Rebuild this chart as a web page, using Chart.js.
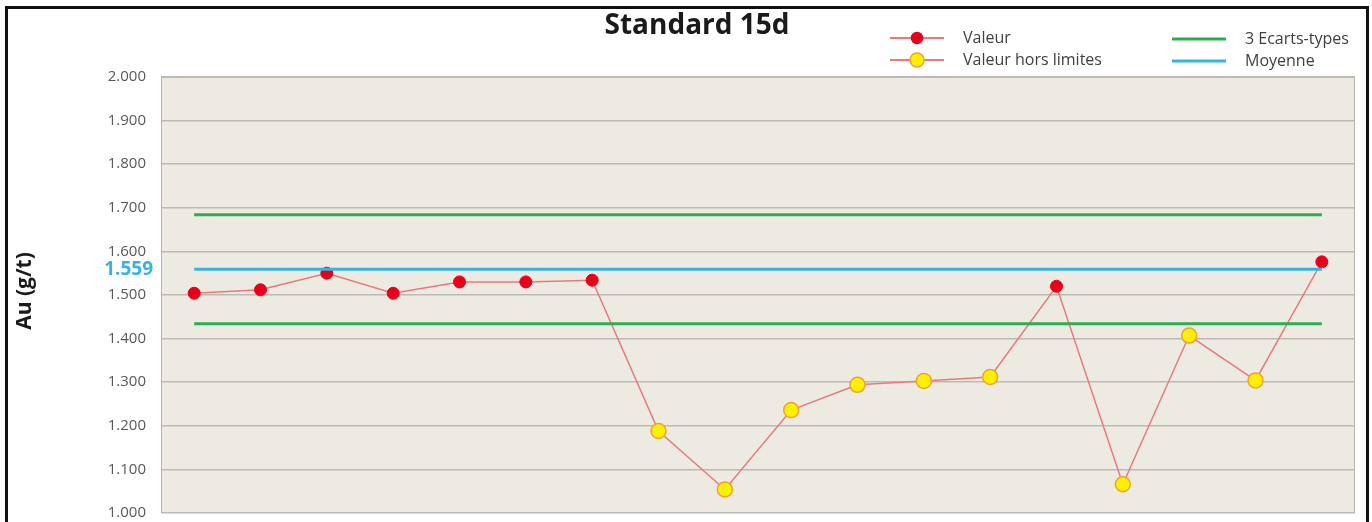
<!DOCTYPE html>
<html lang="fr">
<head>
<meta charset="utf-8">
<title>Standard 15d</title>
<script src="https://cdn.jsdelivr.net/npm/chart.js@4.4.1/dist/chart.umd.min.js"></script>
<style>
  html, body { margin: 0; padding: 0; background: #fff; }
  #wrap { position: relative; width: 1372px; height: 522px; overflow: hidden; }
  #cadre { position: absolute; left: 5px; top: 6px; width: 1358px; height: 600px; border: 3px solid #111; pointer-events: none; }
  canvas { position: absolute; left: 0; top: 0; }
</style>
</head>
<body>
<div id="wrap">
  <!-- le graphique d'origine est coupé en bas : on dessine plus haut et on recadre -->
  <canvas id="standardChart" width="1372" height="537"></canvas>
  <div id="cadre"></div>
</div>
<script>
// Données du standard 15d
const echantillons = ['1', '2', '3', '4', '5', '6', '7', '8', '9', '10', '11', '12', '13', '14', '15', '16', '17', '18'];
const valeurs = [1.504, 1.512, 1.550, 1.504, 1.530, 1.530, 1.534, 1.188, 1.054, 1.236, 1.294, 1.303, 1.312, 1.520, 1.066, 1.407, 1.304, 1.576];
const moyenne = 1.559;
const limiteHaute = 1.684;
const limiteBasse = 1.434;
const ticksY = [1.0, 1.1, 1.2, 1.3, 1.4, 1.5, 1.6, 1.7, 1.8, 1.9, 2.0];

// Couleurs
const ROUGE = '#e8001a';
const JAUNE = '#fff000';
const ORANGE = '#f0a22e';
const LIGNE = '#e77b7b';
const VERT = '#2eac52';
const BLEU = '#35b4e4';

const horsLimites = (v) => v < limiteBasse || v > limiteHaute;
const valeursHors = valeurs.map(v => horsLimites(v) ? v : null);
const constante = (c) => valeurs.map(() => c);

// Décor : fond, titre, légende, libellés
const decor = {
    id: 'decor',
    beforeDraw(chart) {
        const { ctx, chartArea: a } = chart;
        ctx.save();
        ctx.fillStyle = '#edeae2';
        ctx.fillRect(a.left, a.top, a.right - a.left, a.bottom - a.top);
        ctx.strokeStyle = '#b8b5ae';
        ctx.lineWidth = 1;
        ctx.strokeRect(a.left + 0.5, a.top + 0.5, a.right - a.left - 1, a.bottom - a.top - 1);
        ctx.restore();
    },
    afterDraw(chart) {
        const { ctx, chartArea: a } = chart;
        const y = chart.scales.y;
        ctx.save();

        // titre
        ctx.fillStyle = '#1a1a1a';
        ctx.font = 'bold 28px "Open Sans"';
        ctx.textAlign = 'center';
        ctx.textBaseline = 'middle';
        ctx.fillText('Standard 15d', 697, 26);

        // titre de l'axe Y
        ctx.save();
        ctx.translate(25, (a.top + a.bottom) / 2 - 4);
        ctx.rotate(-Math.PI / 2);
        ctx.font = 'bold 21px "Open Sans"';
        ctx.fillText('Au (g/t)', 0, 0);
        ctx.restore();

        // valeur de la moyenne
        ctx.fillStyle = BLEU;
        ctx.font = 'bold 19px "Open Sans"';
        ctx.textAlign = 'right';
        ctx.fillText(moyenne.toFixed(3), 153, y.getPixelForValue(moyenne));

        // légende
        const items = [
            { label: 'Valeur', x: 890, y: 38, ligne: LIGNE, point: ROUGE, bord: ROUGE, r: 5.5 },
            { label: 'Valeur hors limites', x: 890, y: 60, ligne: LIGNE, point: JAUNE, bord: ORANGE, r: 7 },
            { label: '3 Ecarts-types', x: 1172, y: 39, ligne: VERT, lw: 3 },
            { label: 'Moyenne', x: 1172, y: 61, ligne: BLEU, lw: 3 }
        ];
        ctx.font = '16px "Open Sans"';
        ctx.textAlign = 'left';
        items.forEach(it => {
            ctx.strokeStyle = it.ligne;
            ctx.lineWidth = it.lw || 2;
            ctx.beginPath();
            ctx.moveTo(it.x, it.y);
            ctx.lineTo(it.x + 54, it.y);
            ctx.stroke();
            if (it.point) {
                ctx.fillStyle = it.point;
                ctx.strokeStyle = it.bord;
                ctx.lineWidth = 1.5;
                ctx.beginPath();
                ctx.arc(it.x + 27, it.y, it.r, 0, Math.PI * 2);
                ctx.fill();
                ctx.stroke();
            }
            ctx.fillStyle = '#404040';
            ctx.fillText(it.label, it.x + 73, it.y);
        });
        ctx.restore();
    }
};

const ctx = document.getElementById('standardChart').getContext('2d');
const standardChart = new Chart(ctx, {
    type: 'line',
    data: {
        labels: echantillons,
        datasets: [
            {
                label: 'Moyenne',
                data: constante(moyenne),
                borderColor: BLEU,
                borderWidth: 3,
                pointRadius: 0,
                order: 0
            },
            {
                label: '3 Ecarts-types',
                data: constante(limiteHaute),
                borderColor: VERT,
                borderWidth: 3,
                pointRadius: 0,
                order: 1
            },
            {
                label: '3 Ecarts-types (bas)',
                data: constante(limiteBasse),
                borderColor: VERT,
                borderWidth: 3,
                pointRadius: 0,
                order: 1
            },
            {
                label: 'Valeur hors limites',
                data: valeursHors,
                showLine: false,
                pointRadius: 7.5,
                pointBackgroundColor: JAUNE,
                pointBorderColor: ORANGE,
                pointBorderWidth: 1.5,
                order: 2
            },
            {
                label: 'Valeur',
                data: valeurs,
                borderColor: LIGNE,
                borderWidth: 1.5,
                tension: 0,
                pointRadius: valeurs.map(v => horsLimites(v) ? 0 : 6),
                pointBackgroundColor: ROUGE,
                pointBorderColor: ROUGE,
                pointBorderWidth: 1,
                order: 3
            }
        ]
    },
    options: {
        responsive: false,
        animation: false,
        layout: { padding: { left: 0, top: 77, right: 17, bottom: 0 } },
        plugins: {
            legend: { display: false },
            tooltip: { enabled: false }
        },
        scales: {
            x: {
                display: false,
                offset: true
            },
            y: {
                min: 1,
                max: 2,
                afterBuildTicks: (scale) => { scale.ticks = ticksY.map(v => ({ value: v })); },
                afterFit: (scale) => { scale.width = 161; },
                grid: { color: '#bdbab3', lineWidth: 1.5, drawTicks: false },
                border: { display: false },
                ticks: {
                    padding: 15,
                    color: '#595959',
                    font: { family: 'Open Sans', size: 15 },
                    callback: (v) => Number(v).toFixed(3)
                }
            }
        }
    },
    plugins: [decor]
});
</script>
</body>
</html>
